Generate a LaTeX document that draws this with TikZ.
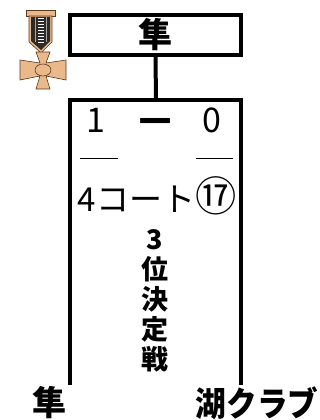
\documentclass[tikz,border=0pt]{standalone}
\usepackage{fontspec}
\setmainfont{Noto Sans CJK JP}
\usetikzlibrary{positioning}

\definecolor{medaltan}{HTML}{E9B98C}
\definecolor{medalline}{HTML}{5C3B1E}
\definecolor{ribbondark}{HTML}{2E2A26}

\tikzset{
  frame/.style={line width=4pt},
  winbox/.style={frame,draw,minimum width=171pt,minimum height=40pt,inner sep=0pt,
    font=\bfseries\fontsize{34}{34}\selectfont},
  team/.style={inner sep=0pt,font=\bfseries\fontsize{34}{34}\selectfont},
  score/.style={inner sep=0pt,font=\fontsize{34}{34}\selectfont},
  court/.style={inner sep=0pt,font=\fontsize{33}{33}\selectfont},
  roundname/.style={inner sep=0pt,align=center,font=\bfseries\fontsize{27}{30}\selectfont}
}

\begin{document}
\begin{tikzpicture}[x=1pt,y=-1pt]
    \useasboundingbox (0,0) rectangle (320,420);

    \node [winbox] (win) at (155.5,35) {隼};

    \coordinate (lt) at (70,100);
    \coordinate (rt) at (241,100);
    \coordinate (lb) at (70,385);
    \coordinate (rb) at (241,385);
    \coordinate (mt) at (156,100);
    \draw [frame] (lb) -- (lt) -- (rt) -- (rb);
    \draw [frame] (win.south) -- (mt);

    \node [score] (s1)   at (96,120)  {1};
    \node [score,font=\bfseries\fontsize{32}{32}\selectfont] (dash) at (155,126) {一};
    \node [score] (s0)   at (212,120) {0};
    \begin{scope}[line width=1pt]
    \draw (80,158) -- (118,158);
    \draw (196,158) -- (233,158);
    \end{scope}

    \node [court] (court) at (157,196) {4コート\scalebox{1.25}{⑰}};
    \node [roundname] (rnd) at (155,301) {3\\位\\決\\定\\戦};

    \node [team] (home) at (49,403)  {隼};
    \node [team] (away) at (257,403) {\scalebox{0.9}[1]{湖クラブ}};

    % medal
    \begin{scope}[draw=medalline,line width=0.6pt]
    \filldraw [fill=medaltan] (26,10) rectangle (55,16);
    \filldraw [fill=medaltan] (29,16) -- (52,16) -- (52,42) -- (41,53) -- (29,42) -- cycle;
    \fill [ribbondark] (31,17) -- (50,17) -- (50,41) -- (41,50) -- (31,41) -- cycle;
    \foreach \x in {35,46}{
        \draw [gray!70,line width=1pt] (\x,17) -- (\x,42);
    }
    \foreach \y in {19,22,...,43}{
        \draw [white,line width=1pt] (38,\y) -- (44,\y);
    }
    \filldraw [fill=medaltan] (36,52) -- (50,52) -- (46,63) -- (66,60) -- (66,80) -- (46,76)
        -- (50,89) -- (36,89) -- (40,76) -- (20,80) -- (20,60) -- (40,63) -- cycle;
    \draw (43,70) ellipse (8 and 6);
    \end{scope}
\end{tikzpicture}
\end{document}
